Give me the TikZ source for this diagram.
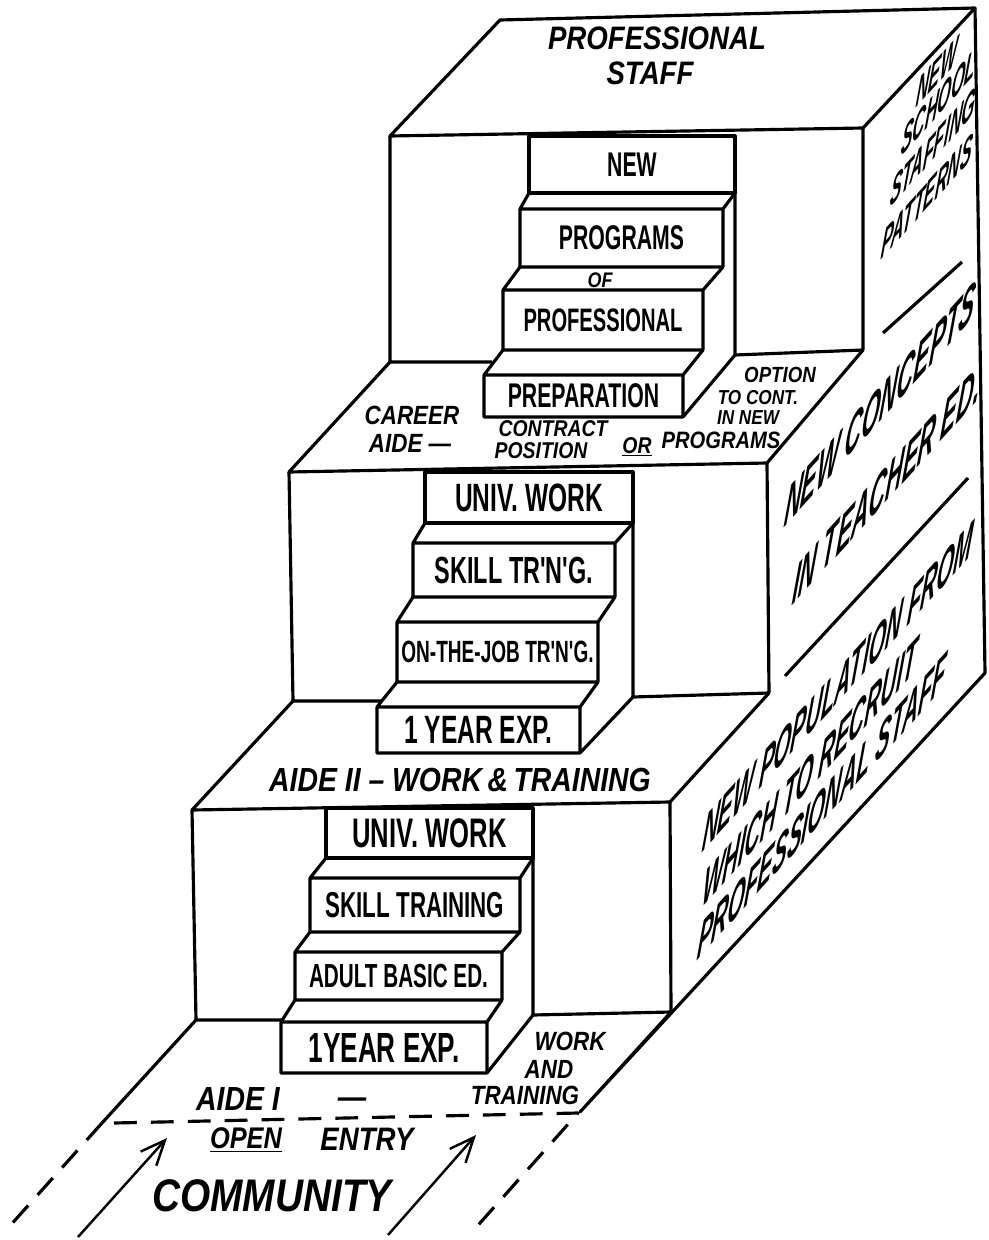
\documentclass[tikz,border=0pt]{standalone}
\usepackage{fontspec}
\newfontfamily\stepfont[FakeStretch=0.62]{Liberation Sans}
\newfontfamily\handfont[FakeStretch=0.85]{Liberation Sans}
\newfontfamily\sidefont[FakeStretch=0.6]{Liberation Sans}
\newcommand\lblsize[1]{\fontsize{#1}{#1}\selectfont}
\usetikzlibrary{arrows.meta}

\begin{document}
\begin{tikzpicture}[x=0.02cm, y=-0.02cm, line width=1.8pt, line join=round,
  steplbl/.style={font=\stepfont\bfseries\lblsize{#1}, inner sep=0pt},
  hand/.style={font=\handfont\bfseries\itshape\lblsize{#1}, inner sep=0pt},
  sidelbl/.style={font=\sidefont\bfseries\itshape\lblsize{#1}, inner sep=0pt,
    anchor=base west, cm={0.67,0.74,0.12,1,(0,0)}},
  floordash/.style={dash pattern=on 13pt off 8pt}]
\useasboundingbox (0,0) rectangle (988,1240);

% the three blocks
\draw (390,136) -- (500,20) -- (975,8) -- (863,128) -- cycle;
\draw (390,136) -- (390,362) -- (492,362) (863,128) -- (863,350) -- (735,355) -- (735,136);
\draw (390,362) -- (289,472) -- (767,463) -- (863,350);
\draw (289,472) -- (293,701) -- (381,701) (767,463) -- (769,693) -- (633,697) -- (633,472);
\draw (293,701) -- (192,810) -- (670,802) -- (769,693);
\draw (192,810) -- (196,1020) -- (282,1020) (670,802) -- (671,1012) -- (533,1015) -- (533,808);
% floor and side face
\draw (196,1020) -- (102,1123) (671,1012) -- (580,1112) -- (985,673) -- (975,8);
\draw[floordash] (102,1123) -- (8,1228) (114,1123) -- (578,1113) -- (472,1232);
\draw (883,333) -- (962,262) (785,676) -- (968,478);

% top risers
\foreach \n/\xl/\xr/\yt/\yb/\t/\s in {new/529/735/136/193/NEW/19.5,
  univb/425/633/472/523/UNIV. WORK/22.5, univa/326/533/808/858/UNIV. WORK/23.5} {
  \draw (\xl,\yt) rectangle (\xr,\yb);
  \node[steplbl=\s] (\n) at ({(\xl+\xr)/2},{(\yt+\yb)/2}) {\t};
}
% steps with their treads
\foreach \n/\xl/\xr/\yt/\yb/\pl/\pr/\pb/\t/\s in {
  prog/520/723/209/267/529/735/193/PROGRAMS/19.5,
  prof/503/703/290/350/520/723/267/PROFESSIONAL/18.5,
  prep/484/683/375/417/503/703/350/PREPARATION/19.5,
  skill/413/615/543/597/425/633/523/SKILL TR'N'G./21.5,
  ojt/397/598/622/682/413/615/597/ON-THE-JOB TR'N'G./17.5,
  yearb/377/580/707/753/397/598/682/1 YEAR EXP./22.5,
  skilla/310/520/878/932/326/533/858/SKILL TRAINING/20.5,
  abe/295/502/952/1000/310/520/932/ADULT BASIC ED./19,
  yeara/281/487/1022/1073/295/502/1000/1YEAR EXP./24} {
  \draw (\pl,\pb) -- (\xl,\yt) rectangle (\xr,\yb) (\xr,\yt) -- (\pr,\pb);
  \node[steplbl=\s] (\n) at ({(\xl+\xr)/2},{(\yt+\yb)/2}) {\t};
}
\draw (683,417) -- (735,355) (580,753) -- (633,697) (487,1073) -- (533,1015);

% labels on the tops
\node[hand=18.5] (pstaff) at (657,38) {PROFESSIONAL};
\node[hand=18.5] (pstaffb) at (650,73) {STAFF};
\node[hand=12] (of) at (600,280) {OF};
\node[hand=15] (career) at (412,415) {CAREER};
\node[hand=15] (caide) at (410,443) {AIDE —};
\node[hand=13] (contract) at (553,429) {CONTRACT};
\node[hand=13] (position) at (541,451) {POSITION};
\node[hand=13] (or) at (637,447) {\underline{OR}};
\node[hand=13.5] (programs) at (721,440) {PROGRAMS};
\node[hand=12.5] (option) at (780,375) {OPTION};
\node[hand=11.5] (tocont) at (758,398) {TO CONT.};
\node[hand=11.5] (innew) at (748,418) {IN NEW};
\node[hand=19] (aidetwo) at (460,780) {AIDE II – WORK\,\&\,TRAINING};
\node[hand=19] (aideone) at (238,1099) {AIDE I};
\node[hand=19] (aidedash) at (352,1103) {—};
\node[hand=15] (work) at (570,1041) {WORK};
\node[hand=15] (and) at (549,1069) {AND};
\node[hand=15] (training) at (525,1095) {TRAINING};
\node[hand=17] (open) at (246,1140) {\underline{OPEN}};
\node[hand=18.5] (entry) at (367,1139) {ENTRY};
\node[hand=26] (community) at (272,1196) {COMMUNITY};

% labels on the side face
\node[sidelbl=24.5] (nssa) at (914,110) {NEW};
\node[sidelbl=24.5] (nssb) at (899,159) {SCHOOL};
\node[sidelbl=24.5] (nssc) at (888,210) {STAFFING};
\node[sidelbl=24.5] (nssd) at (879,262) {PATTERNS};
\node[sidelbl=33] (nca) at (782,530) {NEW CONCEPTS};
\node[sidelbl=33] (ncb) at (790,608) {IN TEACHER ED.};
\node[sidelbl=31] (npa) at (700,855) {NEW POPULATION FROM};
\node[sidelbl=31] (npb) at (700,910) {WHICH TO RECRUIT};
\node[sidelbl=31] (npc) at (695,963) {PROFESSIONAL STAFF};

% entry arrows
\coordinate (arla) at (78,1237); \coordinate (arlb) at (167,1138);
\coordinate (arra) at (388,1235); \coordinate (arrb) at (476,1135);
\draw[-{Straight Barb[length=14pt,width=12pt]}, line width=1.4pt] (arla) -- (arlb);
\draw[-{Straight Barb[length=14pt,width=12pt]}, line width=1.4pt] (arra) -- (arrb);
\end{tikzpicture}
\end{document}
